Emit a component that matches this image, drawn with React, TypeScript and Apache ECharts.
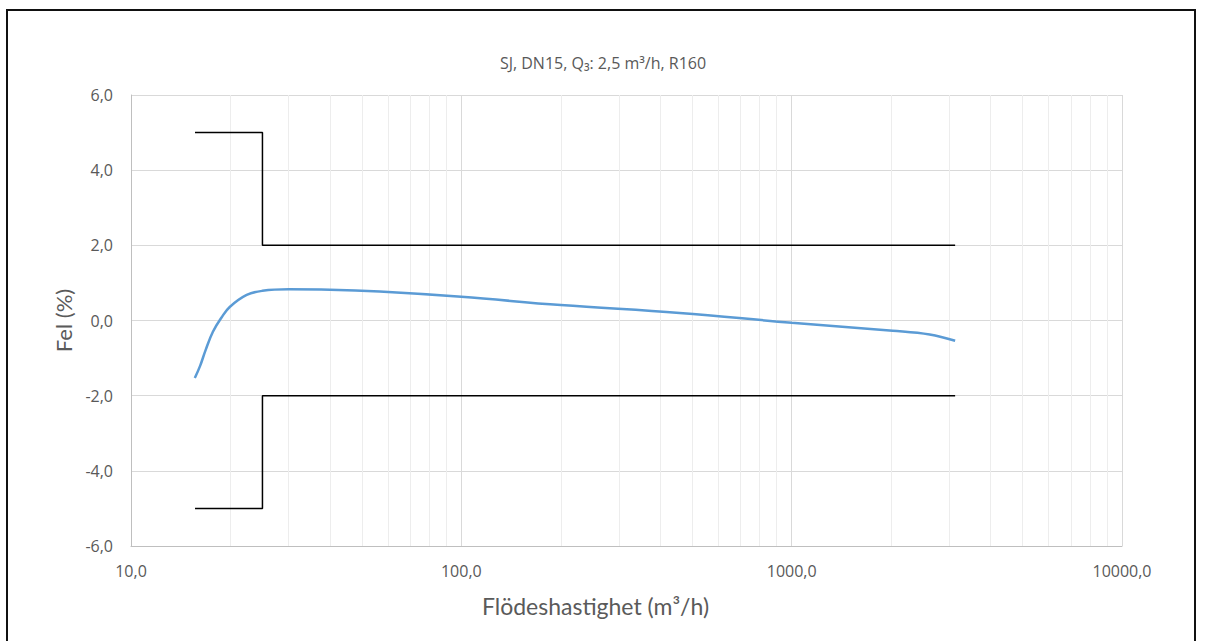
import React, { useEffect, useRef } from "react";
import * as echarts from "echarts";

const titleText = "SJ, DN15, Q₃: 2,5 m³/h, R160";
const xAxisName = "Flödeshastighet (m³/h)";
const yAxisName = "Fel (%)";

const errorCurve: [number, number][] = [
  [15.6, -1.53],
  [16.2, -1.2],
  [16.8, -0.8],
  [17.7, -0.3],
  [18.8, 0.08],
  [19.9, 0.36],
  [22.4, 0.68],
  [25, 0.79],
  [30, 0.83],
  [40, 0.82],
  [56.6, 0.77],
  [100, 0.63],
  [200, 0.41],
  [458, 0.2],
  [1000, -0.06],
  [2022, -0.27],
  [2617, -0.37],
  [3125, -0.54],
];

const upperLimit: [number, number][] = [
  [15.625, 5],
  [25, 5],
  [25, 2],
  [3125, 2],
];
const lowerLimit: [number, number][] = [
  [15.625, -5],
  [25, -5],
  [25, -2],
  [3125, -2],
];

const minorGridValues = [
  20, 30, 40, 50, 60, 70, 80, 90,
  200, 300, 400, 500, 600, 700, 800, 900,
  2000, 3000, 4000, 5000, 6000, 7000, 8000, 9000,
];

const fmt = (v: number) => {
  const r = Math.round(v * 10) / 10;
  return r.toFixed(1).replace(".", ",");
};

export default function App() {
  const ref = useRef<HTMLDivElement>(null);
  useEffect(() => {
    if (!ref.current) return;
    const chart = echarts.init(ref.current, null, { renderer: "svg" });
    chart.setOption({
      animation: false,
      backgroundColor: "#ffffff",
      title: {
        text: titleText,
        left: "center",
        top: 50,
        textStyle: {
          fontFamily: "Open Sans",
          fontSize: 16,
          fontWeight: "normal",
          color: "#595959",
        },
      },
      graphic: [
        {
          type: "rect",
          shape: { x: 7, y: 10, width: 1188, height: 660 },
          style: { fill: "none", stroke: "#111", lineWidth: 2 },
          silent: true,
          z: 100,
        },
      ],
      grid: { left: 131, right: 84, top: 95, bottom: 95 },
      xAxis: {
        type: "log",
        logBase: 10,
        min: 10,
        max: 10000,
        name: xAxisName,
        nameLocation: "middle",
        nameGap: 48,
        nameTextStyle: {
          fontFamily: "Lato",
          fontSize: 23,
          color: "#5a5a5a",
          padding: [0, 62, 0, 0],
        },
        axisLine: { show: true, onZero: false, lineStyle: { color: "#bfbfbf", width: 1 } },
        axisTick: { show: false },
        axisLabel: {
          formatter: (v: number) => fmt(v),
          fontFamily: "Open Sans",
          fontSize: 16,
          color: "#595959",
          margin: 17,
        },
        splitLine: { show: true, lineStyle: { color: "#d9d9d9", width: 1 } },
        minorTick: { show: false },
        minorSplitLine: { show: false },
      },
      yAxis: {
        type: "value",
        min: -6,
        max: 6,
        interval: 2,
        name: yAxisName,
        nameLocation: "middle",
        nameGap: 46,
        nameTextStyle: { fontFamily: "Lato", fontSize: 22, color: "#5a5a5a" },
        axisLine: { show: true, onZero: false, lineStyle: { color: "#bfbfbf", width: 1 } },
        axisTick: { show: false },
        axisLabel: {
          formatter: (v: number) => fmt(v),
          fontFamily: "Open Sans",
          fontSize: 16,
          color: "#595959",
          margin: 18,
        },
        splitLine: { show: true, lineStyle: { color: "#d9d9d9", width: 1 } },
      },
      series: [
        {
          type: "line",
          data: [],
          silent: true,
          markLine: {
            silent: true,
            symbol: ["none", "none"],
            label: { show: false },
            lineStyle: { color: "#ededed", width: 1, type: "solid" },
            data: minorGridValues.map((v) => ({ xAxis: v })),
            z: 0,
          },
          z: 0,
        },
        {
          type: "line",
          data: upperLimit,
          showSymbol: false,
          lineStyle: { color: "#000", width: 1.5 },
          z: 3,
        },
        {
          type: "line",
          data: lowerLimit,
          showSymbol: false,
          lineStyle: { color: "#000", width: 1.5 },
          z: 3,
        },
        {
          type: "line",
          data: errorCurve,
          smooth: 0.4,
          showSymbol: false,
          lineStyle: { color: "#5b9bd5", width: 2.5 },
          z: 4,
        },
      ],
    });
    return () => chart.dispose();
  }, []);
  return (
    <div
      ref={ref}
      style={{ position: "fixed", left: 0, top: 0, width: 1206, height: 641 }}
    />
  );
}
